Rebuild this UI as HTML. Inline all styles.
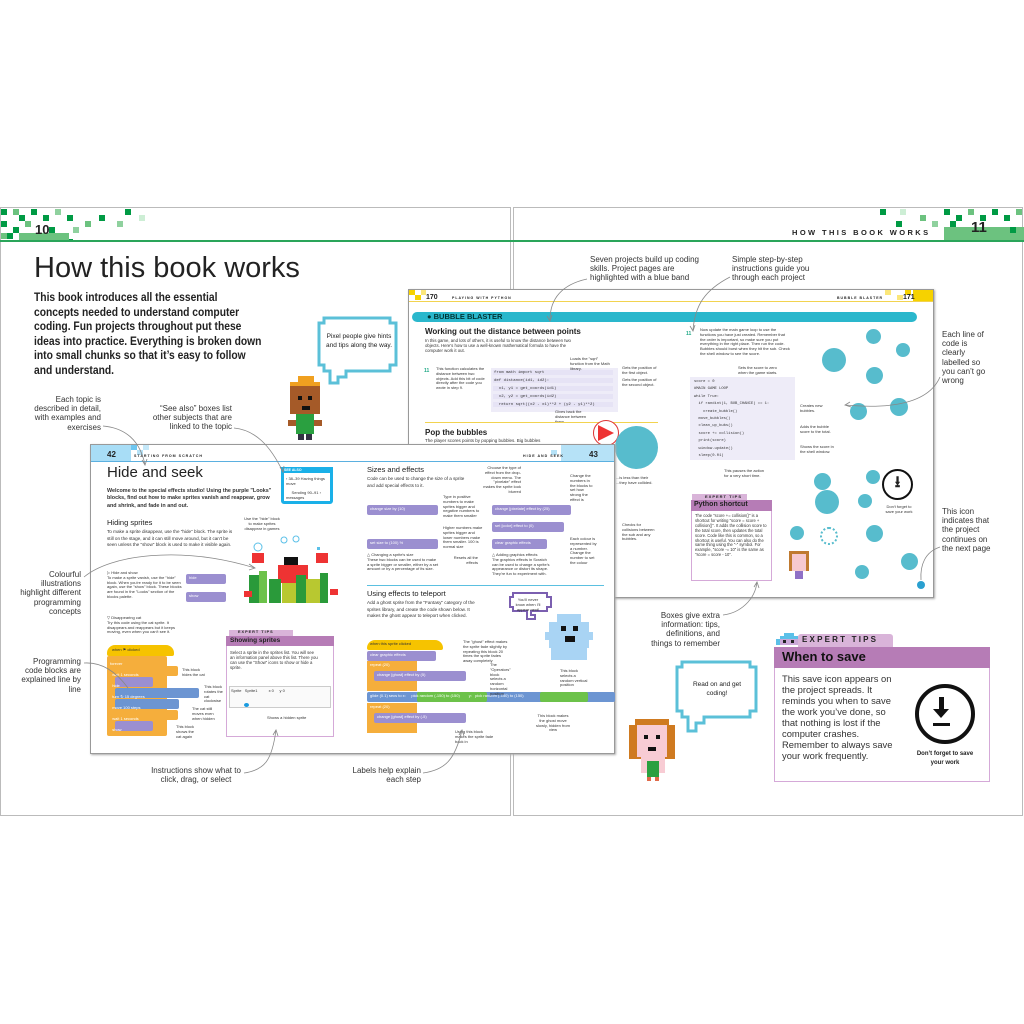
<!DOCTYPE html>
<html><head><meta charset="utf-8">
<style>
*{margin:0;padding:0;box-sizing:border-box}
body{width:1024px;height:1024px;background:#fff;position:relative;overflow:hidden;font-family:"Liberation Sans",sans-serif;color:#222}
.a{position:absolute}
.t{position:absolute;font-size:8px;line-height:1.15;color:#333}
.tiny{position:absolute;font-size:4px;line-height:1.2;color:#333}
.blk{position:absolute;height:10px;border-radius:2px}
.pur{background:#9b8fd0}.org{background:#f5ae3c}.blu{background:#6c95d2}.grn{background:#6cc24a}.yel{background:#f6c300}
.codeln{position:absolute;height:5px;background:#e6e3f5}
.bub{position:absolute;border-radius:50%;background:#57bccd}
</style></head><body>

<div class="a" style="left:0;top:207px;width:511px;height:609px;border:1px solid #bbb"></div>
<div class="a" style="left:513px;top:207px;width:510px;height:609px;border:1px solid #bbb"></div>

<svg class="a" style="left:0;top:207px" width="1024" height="36">
<g fill="#009a44">
<rect x="1" y="2" width="6" height="6"/><rect x="13" y="2" width="6" height="6" fill="#6cc27f"/><rect x="19" y="8" width="6" height="6"/><rect x="31" y="2" width="6" height="6"/><rect x="43" y="8" width="6" height="6"/><rect x="55" y="2" width="6" height="6" fill="#8fd19e"/><rect x="67" y="8" width="6" height="6"/><rect x="99" y="8" width="6" height="6"/><rect x="125" y="2" width="6" height="6"/><rect x="117" y="14" width="6" height="6" fill="#8fd19e"/><rect x="139" y="8" width="6" height="6" fill="#cdeed5"/><rect x="85" y="14" width="6" height="6" fill="#6cc27f"/>
<rect x="1" y="14" width="6" height="6"/><rect x="13" y="20" width="6" height="6"/><rect x="25" y="14" width="6" height="6" fill="#6cc27f"/><rect x="7" y="26" width="6" height="6"/><rect x="1" y="26" width="6" height="6" fill="#6cc27f"/><rect x="49" y="20" width="6" height="6"/><rect x="61" y="26" width="6" height="6"/><rect x="73" y="20" width="6" height="6" fill="#8fd19e"/><rect x="67" y="32" width="6" height="3"/>
<rect x="19" y="26" width="50" height="8" fill="#6cc27f"/>
</g>
<rect x="0" y="33" width="1024" height="2" fill="#2aa55a"/>
<g fill="#009a44">
<rect x="944" y="2" width="6" height="6"/><rect x="956" y="8" width="6" height="6"/><rect x="968" y="2" width="6" height="6" fill="#6cc27f"/><rect x="980" y="8" width="6" height="6"/><rect x="992" y="2" width="6" height="6"/><rect x="1004" y="8" width="6" height="6"/><rect x="1016" y="2" width="6" height="6" fill="#6cc27f"/><rect x="932" y="14" width="6" height="6" fill="#8fd19e"/><rect x="920" y="8" width="6" height="6" fill="#6cc27f"/><rect x="896" y="14" width="6" height="6"/><rect x="880" y="2" width="6" height="6"/><rect x="900" y="2" width="6" height="6" fill="#cdeed5"/>
<rect x="944" y="20" width="80" height="13" fill="#6cc27f"/><rect x="950" y="14" width="6" height="6"/><rect x="1010" y="20" width="6" height="6"/>
</g>
</svg>
<div class="a" style="left:35px;top:222px;font-size:13px;font-weight:bold">10</div>
<div class="a" style="left:971px;top:219px;font-size:15px;font-weight:bold">11</div>
<div class="a" style="left:792px;top:228px;font-size:7.5px;font-weight:bold;letter-spacing:2.4px">HOW THIS BOOK WORKS</div>

<div class="a" style="left:34px;top:252px;font-size:29px;color:#222">How this book works</div>
<div class="a" style="left:34px;top:290px;font-size:12.4px;font-weight:bold;line-height:14.6px;white-space:nowrap;transform:scaleX(0.83);transform-origin:0 0">This book introduces all the essential<br>concepts needed to understand computer<br>coding. Fun projects throughout put these<br>ideas into practice. Everything is broken down<br>into small chunks so that it’s easy to follow<br>and understand.</div>

<div class="t" style="left:34px;top:395px;width:67px;text-align:right">Each topic is described in detail, with examples and exercises</div>
<div class="t" style="left:150px;top:404px;width:82px;text-align:right">“See also” boxes list other subjects that are linked to the topic</div>
<div class="t" style="left:20px;top:570px;width:61px;text-align:right">Colourful illustrations highlight different programming concepts</div>
<div class="t" style="left:20px;top:657px;width:61px;text-align:right">Programming code blocks are explained line by line</div>
<div class="t" style="left:150px;top:766px;width:92px;text-align:center">Instructions show what to click, drag, or select</div>
<div class="t" style="left:345px;top:766px;width:76px;text-align:right">Labels help explain each step</div>
<div class="t" style="left:590px;top:255px;width:110px">Seven projects build up coding skills. Project pages are highlighted with a blue band</div>
<div class="t" style="left:732px;top:255px;width:80px">Simple step-by-step instructions guide you through each project</div>
<div class="t" style="left:942px;top:330px;width:50px">Each line of code is clearly labelled so you can’t go wrong</div>
<div class="t" style="left:942px;top:507px;width:50px">This icon indicates that the project continues on the next page</div>
<div class="t" style="left:645px;top:611px;width:75px;text-align:right">Boxes give extra information: tips, definitions, and things to remember</div>

<div class="a" style="left:408px;top:289px;width:526px;height:309px;background:#fff;border:1px solid #999;box-shadow:1px 1px 2px #aaa"></div>
<svg class="a" style="left:409px;top:290px" width="524" height="14">
<g fill="#f6d200"><rect x="0" y="0" width="6" height="5"/><rect x="6" y="5" width="6" height="5"/><rect x="12" y="0" width="5" height="5" fill="#fbe77a"/><rect x="504" y="0" width="20" height="12"/><rect x="496" y="0" width="6" height="5"/><rect x="488" y="5" width="6" height="5" fill="#fbe77a"/><rect x="476" y="0" width="6" height="5" fill="#fbe77a"/></g>
<rect x="0" y="11" width="524" height="1" fill="#f2d34f"/>
</svg>
<div class="a" style="left:426px;top:294px;font-size:7px;font-weight:bold">170</div>
<div class="a" style="left:452px;top:296px;font-size:3.5px;font-weight:bold;letter-spacing:1px">PLAYING WITH PYTHON</div>
<div class="a" style="left:837px;top:296px;font-size:3.5px;font-weight:bold;letter-spacing:1px">BUBBLE BLASTER</div>
<div class="a" style="left:903px;top:294px;font-size:7px;font-weight:bold">171</div>
<div class="a" style="left:412px;top:312px;width:505px;height:10px;background:#2ab7cc;border-radius:5px"></div>
<div class="a" style="left:424px;top:312px;height:10px;font-size:7.5px;font-weight:bold;color:#033;padding-left:3px">● BUBBLE BLASTER</div>
<div class="a" style="left:425px;top:327px;font-size:8px;font-weight:bold">Working out the distance between points</div>
<div class="tiny" style="left:425px;top:338px;width:150px;font-size:4.3px">In this game, and lots of others, it is useful to know the distance between two objects. Here's how to use a well-known mathematical formula to have the computer work it out.</div>
<div class="a" style="left:424px;top:368px;font-size:5px;font-weight:bold;color:#2a8">11</div>
<div class="tiny" style="left:436px;top:367px;width:50px">This function calculates the distance between two objects. Add this bit of code directly after the code you wrote in step 9.</div>
<div class="a" style="left:491px;top:368px;width:127px;height:44px;background:#eeecf8"></div>
<div class="codeln" style="left:493px;top:370px;width:120px"></div><div class="codeln" style="left:493px;top:378px;width:120px"></div><div class="codeln" style="left:493px;top:386px;width:120px"></div><div class="codeln" style="left:493px;top:394px;width:120px"></div><div class="codeln" style="left:493px;top:402px;width:120px"></div>
<div class="tiny" style="left:494px;top:369px;font-family:'Liberation Mono',monospace;font-size:4px;line-height:8px">from math import sqrt<br>def distance(id1, id2):<br>&nbsp;&nbsp;x1, y1 = get_coords(id1)<br>&nbsp;&nbsp;x2, y2 = get_coords(id2)<br>&nbsp;&nbsp;return sqrt((x2 - x1)**2 + (y2 - y1)**2)</div>
<div class="tiny" style="left:570px;top:357px;width:40px">Loads the "sqrt" function from the Math library.</div>
<div class="tiny" style="left:622px;top:366px;width:36px">Gets the position of the first object.</div>
<div class="tiny" style="left:622px;top:378px;width:36px">Gets the position of the second object.</div>
<div class="tiny" style="left:555px;top:410px;width:40px">Gives back the distance between them.</div>
<div class="a" style="left:425px;top:422px;width:233px;height:1px;background:#f2d34f"></div>
<div class="a" style="left:425px;top:428px;font-size:8px;font-weight:bold">Pop the bubbles</div>
<div class="tiny" style="left:425px;top:438px;font-size:4.5px">The player scores points by popping bubbles. Big bubbles</div>
<div class="a" style="left:593px;top:420px;width:26px;height:26px;border-radius:50%;border:1px solid #d33;background:#fff"></div>
<div class="a" style="left:598px;top:425px;width:0;height:0;border-left:16px solid #e33;border-top:8px solid transparent;border-bottom:8px solid transparent"></div>
<div class="bub" style="left:615px;top:426px;width:43px;height:43px"></div>
<div class="tiny" style="left:616px;top:476px;width:44px">...is less than their ...they have collided.</div>
<div class="tiny" style="left:622px;top:523px;width:36px">Checks for collisions between the sub and any bubbles.</div>

<div class="a" style="left:686px;top:331px;font-size:5px;font-weight:bold;color:#2a8">11</div>
<div class="tiny" style="left:700px;top:328px;width:90px">Now update the main game loop to use the functions you have just created. Remember that the order is important, so make sure you put everything in the right place. Then run the code. Bubbles should burst when they hit the sub. Check the shell window to see the score.</div>
<div class="a" style="left:690px;top:377px;width:105px;height:83px;background:#eeecf8"></div>
<div class="tiny" style="left:694px;top:379px;font-family:'Liberation Mono',monospace;font-size:3.8px;line-height:7.4px">score = 0<br>#MAIN GAME LOOP<br>while True:<br>&nbsp;&nbsp;if randint(1, BUB_CHANCE) == 1:<br>&nbsp;&nbsp;&nbsp;&nbsp;create_bubble()<br>&nbsp;&nbsp;move_bubbles()<br>&nbsp;&nbsp;clean_up_bubs()<br>&nbsp;&nbsp;score += collision()<br>&nbsp;&nbsp;print(score)<br>&nbsp;&nbsp;window.update()<br>&nbsp;&nbsp;sleep(0.01)</div>
<div class="tiny" style="left:738px;top:366px;width:40px">Sets the score to zero when the game starts.</div>
<div class="tiny" style="left:800px;top:404px;width:30px">Creates new bubbles.</div>
<div class="tiny" style="left:800px;top:425px;width:36px">Adds the bubble score to the total.</div>
<div class="tiny" style="left:800px;top:445px;width:40px">Shows the score in the shell window.</div>
<div class="tiny" style="left:724px;top:469px;width:44px">This pauses the action for a very short time.</div>
<div class="bub" style="left:866px;top:329px;width:15px;height:15px"></div>
<div class="bub" style="left:896px;top:343px;width:14px;height:14px"></div>
<div class="bub" style="left:822px;top:348px;width:24px;height:24px"></div>
<div class="bub" style="left:866px;top:367px;width:17px;height:17px"></div>
<div class="bub" style="left:850px;top:403px;width:17px;height:17px"></div>
<div class="bub" style="left:890px;top:398px;width:18px;height:18px"></div>
<div class="bub" style="left:866px;top:470px;width:14px;height:14px"></div>
<div class="bub" style="left:814px;top:473px;width:17px;height:17px"></div>
<div class="bub" style="left:815px;top:490px;width:24px;height:24px"></div>
<div class="bub" style="left:858px;top:494px;width:14px;height:14px"></div>
<div class="bub" style="left:866px;top:525px;width:17px;height:17px"></div>
<div class="bub" style="left:855px;top:565px;width:14px;height:14px"></div>
<div class="bub" style="left:790px;top:526px;width:14px;height:14px"></div>
<div class="bub" style="left:901px;top:553px;width:17px;height:17px"></div>
<div class="bub" style="left:917px;top:581px;width:8px;height:8px;background:#2aa0d0"></div>
<div class="a" style="left:882px;top:469px;width:31px;height:31px;border:2.5px solid #111;border-radius:50%;text-align:center;font-size:16px;line-height:24px;font-weight:bold">⭳</div>
<div class="tiny" style="left:884px;top:505px;width:30px;text-align:center">Don't forget to save your work</div>
<div class="a" style="left:692px;top:494px;width:55px;height:6px;background:#d9b4d9"></div>
<div class="a" style="left:705px;top:494px;font-size:4px;font-weight:bold;letter-spacing:1px">EXPERT TIPS</div>
<div class="a" style="left:691px;top:500px;width:81px;height:81px;border:1px solid #d5a9d8;background:#fff"></div>
<div class="a" style="left:691px;top:500px;width:81px;height:11px;background:#b67cb6;font-size:7px;font-weight:bold;padding:1px 3px">Python shortcut</div>
<div class="tiny" style="left:695px;top:514px;width:74px;font-size:4.1px">The code "score += collision()" is a shortcut for writing "score = score + collision()". It adds the collision score to the total score, then updates the total score. Code like this is common, so a shortcut is useful. You can also do the same thing using the "-" symbol. For example, "score -= 10" is the same as "score = score - 10".</div>
<div class="a" style="left:789px;top:551px;width:20px;height:20px;background:#f6c9d0;border:3px solid #c07a30;border-bottom:none"></div>
<div class="a" style="left:795px;top:571px;width:8px;height:8px;background:#8f70c6"></div>
<div class="a" style="left:820px;top:527px;width:18px;height:18px;border:2px dotted #57bccd;border-radius:50%"></div>

<svg class="a" style="left:288px;top:376px" width="40" height="66">
<rect x="10" y="0" width="16" height="6" fill="#f0a020"/><rect x="2" y="6" width="30" height="6" fill="#f0a020"/>
<rect x="2" y="10" width="30" height="28" fill="#a55a28"/><rect x="10" y="20" width="4" height="4" fill="#111"/><rect x="20" y="20" width="4" height="4" fill="#111"/><rect x="14" y="30" width="8" height="4" fill="#111"/>
<rect x="0" y="44" width="34" height="6" fill="#a55a28"/><rect x="8" y="38" width="18" height="20" fill="#2aa040"/><rect x="10" y="58" width="6" height="6" fill="#334"/><rect x="18" y="58" width="6" height="6" fill="#334"/>
</svg>
<svg class="a" style="left:316px;top:315px" width="86" height="74"><path d="M8 3 H74 V8 H80 V50 H74 V56 H30 V62 H22 V68 H14 V56 H8 V50 H3 V8 H8 Z" fill="#fff" stroke="#5bc0d8" stroke-width="3"/></svg>
<div class="a" style="left:326px;top:332px;width:66px;text-align:center;font-size:6.5px;line-height:9px">Pixel people give hints and tips along the way.</div>

<div class="a" style="left:90px;top:444px;width:525px;height:310px;background:#fff;border:1px solid #999;box-shadow:1px 1px 2px #aaa"></div>
<svg class="a" style="left:91px;top:445px" width="523" height="20">
<g fill="#6ec6f0"><rect x="0" y="0" width="40" height="16" opacity=".6"/><rect x="40" y="0" width="6" height="5"/><rect x="46" y="5" width="6" height="5" opacity=".5"/><rect x="52" y="0" width="6" height="5" opacity=".4"/><rect x="470" y="0" width="53" height="16" opacity=".5"/><rect x="460" y="5" width="6" height="5" opacity=".5"/></g>
<rect x="0" y="16" width="523" height="1" fill="#5bb0e0"/>
</svg>
<div class="a" style="left:107px;top:450px;font-size:8px;font-weight:bold">42</div>
<div class="a" style="left:134px;top:454px;font-size:3.6px;font-weight:bold;letter-spacing:1px">STARTING FROM SCRATCH</div>
<div class="a" style="left:523px;top:454px;font-size:3.6px;font-weight:bold;letter-spacing:1px">HIDE AND SEEK</div>
<div class="a" style="left:589px;top:450px;font-size:8px;font-weight:bold">43</div>
<div class="a" style="left:107px;top:464px;font-size:15px">Hide and seek</div>
<div class="tiny" style="left:107px;top:488px;width:165px;font-size:5.4px;font-weight:bold;line-height:7.3px">Welcome to the special effects studio! Using the purple "Looks" blocks, find out how to make sprites vanish and reappear, grow and shrink, and fade in and out.</div>
<div class="a" style="left:281px;top:467px;width:52px;height:37px;border:3px solid #1ab0e8;border-radius:3px;background:#fff"></div>
<div class="a" style="left:281px;top:467px;width:52px;height:6px;background:#1ab0e8;font-size:3.5px;color:#fff;font-weight:bold;padding:1px 3px">SEE ALSO</div>
<div class="tiny" style="left:286px;top:477px;width:44px">‹ 38–39 Having things move<br><br>&nbsp;&nbsp;&nbsp;&nbsp;&nbsp;Sending 90–91 › messages</div>
<div class="a" style="left:107px;top:518px;font-size:7.5px">Hiding sprites</div>
<div class="tiny" style="left:107px;top:529px;width:130px;font-size:4.6px;line-height:6.5px">To make a sprite disappear, use the "hide" block. The sprite is still on the stage, and it can still move around, but it can't be seen unless the "show" block is used to make it visible again.</div>
<div class="tiny" style="left:244px;top:517px;width:36px;text-align:center">Use the "hide" block to make sprites disappear in games</div>
<svg class="a" style="left:244px;top:535px" width="95" height="70">
<rect x="34" y="30" width="30" height="18" fill="#e33"/><rect x="40" y="22" width="14" height="8" fill="#111"/><rect x="8" y="18" width="12" height="10" fill="#e33"/><rect x="72" y="18" width="12" height="10" fill="#e33"/>
<rect x="5" y="40" width="10" height="28" fill="#2a9a3a"/><rect x="15" y="36" width="8" height="32" fill="#6cc24a"/><rect x="25" y="44" width="12" height="24" fill="#2a9a3a"/><rect x="38" y="48" width="14" height="20" fill="#b8c830"/><rect x="52" y="40" width="10" height="28" fill="#2a9a3a"/><rect x="62" y="44" width="14" height="24" fill="#b8c830"/><rect x="76" y="38" width="8" height="30" fill="#2a9a3a"/><rect x="0" y="56" width="8" height="6" fill="#e33"/><rect x="86" y="54" width="8" height="6" fill="#e33"/>
<circle cx="14" cy="12" r="4" fill="none" stroke="#5bc0e8"/><circle cx="40" cy="5" r="3" fill="none" stroke="#5bc0e8"/><circle cx="52" cy="4" r="3" fill="none" stroke="#5bc0e8"/><rect x="73" y="12" width="3" height="3" fill="#5bc0e8"/>
</svg>
<div class="tiny" style="left:107px;top:571px;width:76px">▷ Hide and show<br>To make a sprite vanish, use the "hide" block. When you're ready for it to be seen again, use the "show" block. These blocks are found in the "Looks" section of the blocks palette.</div>
<div class="blk pur" style="left:186px;top:574px;width:40px"></div><div class="tiny" style="left:189px;top:576px;color:#fff">hide</div>
<div class="blk pur" style="left:186px;top:592px;width:40px"></div><div class="tiny" style="left:189px;top:594px;color:#fff">show</div>
<div class="tiny" style="left:107px;top:616px;width:76px">▽ Disappearing cat<br>Try this code using the cat sprite. It disappears and reappears but it keeps moving, even when you can't see it.</div>
<div class="blk yel" style="left:107px;top:645px;width:67px;height:11px;border-radius:8px 8px 2px 2px"></div><div class="tiny" style="left:112px;top:648px">when ⚑ clicked</div>
<div class="a org" style="left:107px;top:656px;width:60px;height:80px;border-radius:2px"></div>
<div class="blk org" style="left:115px;top:666px;width:63px"></div>
<div class="blk pur" style="left:115px;top:677px;width:38px"></div>
<div class="blk blu" style="left:115px;top:688px;width:84px"></div>
<div class="blk blu" style="left:115px;top:699px;width:64px"></div>
<div class="blk org" style="left:115px;top:710px;width:63px"></div>
<div class="blk pur" style="left:115px;top:721px;width:38px"></div>
<div class="tiny" style="left:110px;top:658px;line-height:11px;color:#fff">forever<br>&nbsp;&nbsp;wait 1 seconds<br>&nbsp;&nbsp;hide<br>&nbsp;&nbsp;turn ↻ 15 degrees<br>&nbsp;&nbsp;move 100 steps<br>&nbsp;&nbsp;wait 1 seconds<br>&nbsp;&nbsp;show</div>
<div class="tiny" style="left:182px;top:668px;width:28px">This block hides the cat</div>
<div class="tiny" style="left:204px;top:685px;width:20px">This block rotates the cat clockwise</div>
<div class="tiny" style="left:192px;top:707px;width:26px">The cat still moves even when hidden</div>
<div class="tiny" style="left:176px;top:725px;width:20px">This block shows the cat again</div>
<div class="a" style="left:229px;top:630px;width:64px;height:6px;background:#d9b4d9"></div>
<div class="a" style="left:238px;top:630px;font-size:3.8px;font-weight:bold;letter-spacing:1px">EXPERT TIPS</div>
<div class="a" style="left:226px;top:636px;width:108px;height:101px;border:1px solid #d5a9d8;background:#fff"></div>
<div class="a" style="left:226px;top:636px;width:108px;height:10px;background:#b67cb6;font-size:6.5px;font-weight:bold;padding:1px 4px">Showing sprites</div>
<div class="tiny" style="left:230px;top:650px;width:90px;font-size:4.3px">Select a sprite in the sprites list. You will see an information panel above this list. There you can use the "Show" icons to show or hide a sprite.</div>
<div class="a" style="left:229px;top:686px;width:102px;height:22px;border:1px solid #ccc;background:#fafafa"></div>
<div class="tiny" style="left:231px;top:689px">Sprite &nbsp; Sprite1 &nbsp;&nbsp;&nbsp;&nbsp;&nbsp;&nbsp;&nbsp;&nbsp; x 0 &nbsp;&nbsp;&nbsp; y 0</div>
<div class="a" style="left:244px;top:703px;width:5px;height:4px;border-radius:50%;background:#1a9be0"></div>
<div class="tiny" style="left:267px;top:716px">Shows a hidden sprite</div>
<div class="a" style="left:367px;top:465px;font-size:7.5px">Sizes and effects</div>
<div class="tiny" style="left:367px;top:476px;width:100px;font-size:4.6px;line-height:6.5px">Code can be used to change the size of a sprite and add special effects to it.</div>
<div class="blk pur" style="left:367px;top:505px;width:71px"></div><div class="tiny" style="left:370px;top:507px;color:#fff">change size by (10)</div>
<div class="blk pur" style="left:367px;top:539px;width:71px"></div><div class="tiny" style="left:370px;top:541px;color:#fff">set size to (100) %</div>
<div class="tiny" style="left:443px;top:495px;width:42px">Type in positive numbers to make sprites bigger and negative numbers to make them smaller</div>
<div class="tiny" style="left:443px;top:526px;width:42px">Higher numbers make sprites bigger and lower numbers make them smaller. 100 is normal size</div>
<div class="tiny" style="left:367px;top:553px;width:72px">△ Changing a sprite's size<br>These two blocks can be used to make a sprite bigger or smaller, either by a set amount or by a percentage of its size.</div>
<div class="tiny" style="left:483px;top:466px;width:38px;text-align:right">Choose the type of effect from the drop-down menu. The "pixelate" effect makes the sprite look blurred</div>
<div class="tiny" style="left:450px;top:556px;width:28px;text-align:right">Resets all the effects</div>
<div class="blk pur" style="left:492px;top:505px;width:79px"></div><div class="tiny" style="left:495px;top:507px;color:#fff">change [pixelate] effect by (25)</div>
<div class="blk pur" style="left:492px;top:522px;width:72px"></div><div class="tiny" style="left:495px;top:524px;color:#fff">set [color] effect to (0)</div>
<div class="blk pur" style="left:492px;top:539px;width:55px"></div><div class="tiny" style="left:495px;top:541px;color:#fff">clear graphic effects</div>
<div class="tiny" style="left:570px;top:474px;width:24px">Change the numbers in the blocks to set how strong the effect is</div>
<div class="tiny" style="left:570px;top:537px;width:28px">Each colour is represented by a number. Change the number to set the colour</div>
<div class="tiny" style="left:492px;top:553px;width:62px">△ Adding graphics effects<br>The graphics effects in Scratch can be used to change a sprite's appearance or distort its shape. They're fun to experiment with.</div>
<div class="a" style="left:367px;top:585px;width:237px;height:1px;background:#5bc0e0"></div>
<div class="a" style="left:367px;top:589px;font-size:7.5px">Using effects to teleport</div>
<div class="tiny" style="left:367px;top:600px;width:115px;font-size:4.6px;line-height:6.5px">Add a ghost sprite from the "Fantasy" category of the sprites library, and create the code shown below. It makes the ghost appear to teleport when clicked.</div>
<svg class="a" style="left:509px;top:591px" width="45" height="30"><path d="M4 2 H38 V6 H42 V16 H38 V20 H22 V24 H26 V28 H18 V20 H4 V16 H1 V6 H4 Z" fill="#fff" stroke="#7b5fb0" stroke-width="2"/></svg>
<div class="tiny" style="left:513px;top:598px;width:30px;text-align:center">You'll never know when I'll appear next!</div>
<svg class="a" style="left:545px;top:612px" width="50" height="50"><path d="M12 2 H36 V10 H44 V20 H48 V28 H44 V36 H42 V48 H6 V36 H4 V28 H0 V20 H4 V10 H12 Z" fill="#a9d4f4"/><rect x="16" y="14" width="5" height="5" fill="#111"/><rect x="28" y="14" width="5" height="5" fill="#111"/><rect x="20" y="24" width="10" height="6" fill="#111"/></svg>
<div class="blk yel" style="left:367px;top:640px;width:76px;height:10px;border-radius:8px 8px 2px 2px"></div><div class="tiny" style="left:370px;top:642px">when this sprite clicked</div>
<div class="blk pur" style="left:367px;top:651px;width:69px"></div><div class="tiny" style="left:370px;top:653px;color:#fff">clear graphic effects</div>
<div class="a org" style="left:367px;top:661px;width:50px;height:30px"></div><div class="tiny" style="left:370px;top:663px;color:#fff">repeat (20)</div>
<div class="blk pur" style="left:374px;top:671px;width:92px"></div><div class="tiny" style="left:377px;top:673px;color:#fff">change [ghost] effect by (5)</div>
<div class="blk blu" style="left:367px;top:692px;width:248px"></div>
<div class="blk grn" style="left:417px;top:692px;width:70px"></div><div class="blk grn" style="left:540px;top:692px;width:48px"></div>
<div class="tiny" style="left:370px;top:694px;color:#fff">glide (0.1) secs to x: &nbsp;&nbsp;&nbsp; pick random (-150) to (150) &nbsp;&nbsp;&nbsp;&nbsp;&nbsp;&nbsp; y: &nbsp; pick random (-150) to (150)</div>
<div class="a org" style="left:367px;top:703px;width:50px;height:30px"></div><div class="tiny" style="left:370px;top:705px;color:#fff">repeat (20)</div>
<div class="blk pur" style="left:374px;top:713px;width:92px"></div><div class="tiny" style="left:377px;top:715px;color:#fff">change [ghost] effect by (-5)</div>
<div class="tiny" style="left:463px;top:640px;width:45px">The "ghost" effect makes the sprite fade slightly by repeating this block 20 times the sprite fades away completely</div>
<div class="tiny" style="left:490px;top:663px;width:22px">The "Operators" block selects a random horizontal position</div>
<div class="tiny" style="left:560px;top:669px;width:28px">This block selects a random vertical position</div>
<div class="tiny" style="left:455px;top:730px;width:40px">Using this block makes the sprite fade back in</div>
<div class="tiny" style="left:535px;top:714px;width:36px;text-align:center">This block makes the ghost move slowly, hidden from view</div>

<svg class="a" style="left:774px;top:633px" width="30" height="12"><path d="M2 12 V6 H6 V3 H10 V0 H20 V3 H24 V6 H28 V12 Z" fill="#5bc0e8"/><rect x="6" y="6" width="18" height="6" fill="#caa8d8"/><rect x="9" y="7" width="3" height="3" fill="#222"/><rect x="17" y="7" width="3" height="3" fill="#222"/></svg>
<div class="a" style="left:798px;top:634px;width:95px;height:14px;background:#d9b4d9;border-radius:3px 3px 0 0"></div>
<div class="a" style="left:802px;top:635px;font-size:8px;font-weight:bold;letter-spacing:2.2px;color:#222">EXPERT TIPS</div>
<div class="a" style="left:774px;top:647px;width:216px;height:135px;border:1px solid #d5a9d8;background:#fff"></div>
<div class="a" style="left:774px;top:647px;width:216px;height:21px;background:#b67cb6;font-size:13px;font-weight:bold;padding:2px 8px;color:#111">When to save</div>
<div class="a" style="left:782px;top:673px;width:120px;font-size:9.4px;line-height:11px;color:#333">This save icon appears on the project spreads. It reminds you when to save the work you’ve done, so that nothing is lost if the computer crashes. Remember to always save your work frequently.</div>
<div class="a" style="left:915px;top:684px;width:60px;height:60px;border:4.5px solid #111;border-radius:50%"></div>
<div class="a" style="left:939px;top:697px;width:5px;height:14px;background:#111"></div>
<div class="a" style="left:933px;top:709px;width:0;height:0;border-left:8.5px solid transparent;border-right:8.5px solid transparent;border-top:9px solid #111"></div>
<div class="a" style="left:933px;top:723px;width:17px;height:3px;background:#111"></div>
<div class="a" style="left:915px;top:750px;width:60px;text-align:center;font-size:6px;font-weight:bold;line-height:9px">Don’t forget to save your work</div>

<svg class="a" style="left:674px;top:659px" width="88" height="80"><path d="M8 3 H76 V8 H82 V52 H76 V58 H30 V64 H22 V72 H14 V58 H8 V52 H3 V8 H8 Z" fill="#fff" stroke="#5bc0d8" stroke-width="3"/></svg>
<div class="a" style="left:684px;top:680px;width:66px;text-align:center;font-size:6.5px;line-height:9px">Read on and get coding!</div>
<svg class="a" style="left:627px;top:719px" width="60" height="64">
<rect x="8" y="0" width="34" height="6" fill="#cf7a20"/><rect x="2" y="6" width="46" height="34" fill="#cf7a20"/><rect x="10" y="6" width="30" height="32" fill="#f8ccd4"/>
<rect x="17" y="16" width="4" height="4" fill="#111"/><rect x="29" y="16" width="4" height="4" fill="#111"/><rect x="21" y="28" width="8" height="4" fill="#111"/>
<rect x="14" y="38" width="24" height="10" fill="#f8ccd4"/><rect x="20" y="42" width="12" height="16" fill="#2aa040"/><rect x="14" y="48" width="6" height="6" fill="#f8ccd4"/><rect x="32" y="48" width="6" height="6" fill="#f8ccd4"/><rect x="20" y="58" width="4" height="4" fill="#e06a4a"/><rect x="28" y="58" width="4" height="4" fill="#e06a4a"/>
</svg>

<svg class="a" style="left:0;top:0" width="1024" height="1024" fill="none" stroke="#888" stroke-width="0.8">
<path d="M103 426 C125 428 140 440 145 465"/><path d="M142 460 l3 5 l2 -6"/>
<path d="M234 428 C255 430 270 445 283 472"/><path d="M280 467 l3 5 l1 -6"/>
<path d="M84 577 C110 555 180 545 255 568"/><path d="M249 564 l6 4 l-6 2"/>
<path d="M84 663 C100 662 115 670 128 688"/>
<path d="M244 773 C265 770 272 760 276 730"/><path d="M273 735 l3 -5 l2 6"/>
<path d="M423 773 C445 770 455 760 462 730"/><path d="M459 735 l3 -5 l2 6"/>
<path d="M587 279 C560 285 550 300 550 320"/><path d="M547 316 l3 5 l2 -6"/>
<path d="M730 277 C705 290 695 305 693 330"/><path d="M690 326 l3 5 l2 -6"/>
<path d="M940 377 C930 400 900 410 845 405"/><path d="M850 402 l-5 3 l6 2"/>
<path d="M940 547 C925 552 920 565 921 580"/>
<path d="M723 615 C740 613 755 600 757 582"/><path d="M754 587 l3 -5 l2 6"/>
</svg>
</body></html>
